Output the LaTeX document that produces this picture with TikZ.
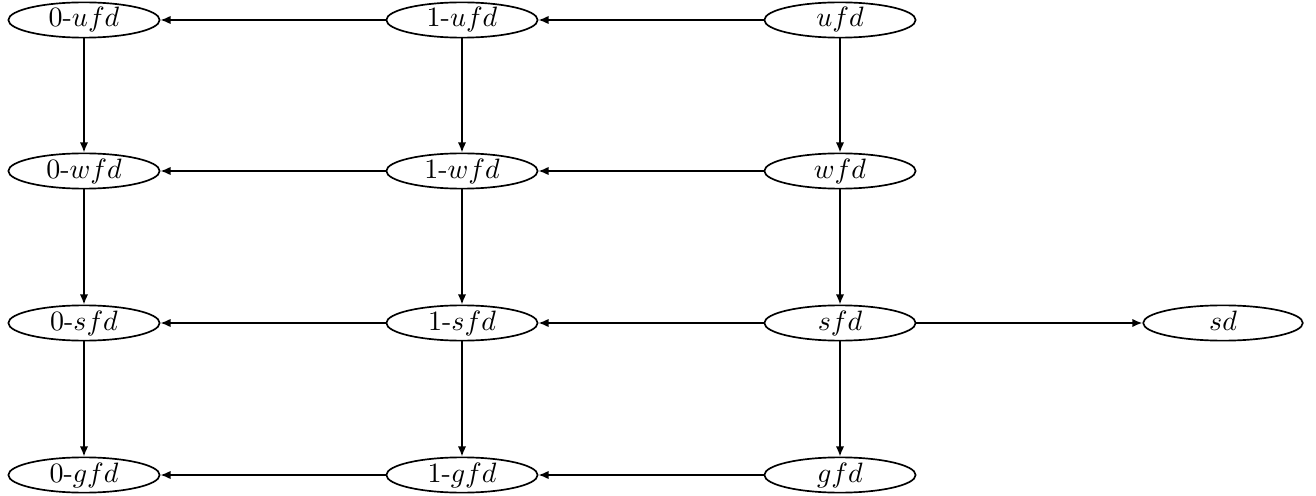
\documentclass[tikz,border=0pt]{standalone}
\usetikzlibrary{shapes.geometric,arrows.meta}
\begin{document}
\begin{tikzpicture}[x=0.3571pt,y=-0.3571pt,
  st/.style={ellipse,draw,line width=0.6pt,inner sep=0pt,minimum width=54pt,minimum height=12.6pt,text height=6.9pt,text depth=1.9pt},
  ar/.style={line width=0.6pt,-{Latex[length=3.6pt,width=3pt]}}]
\useasboundingbox (0,0) rectangle (1316,496);
\node[st] (u0) at (84,20) {$0$-$ufd$};
\node[st] (u1) at (462,20) {$1$-$ufd$};
\node[st] (u)  at (840,20) {$ufd$};
\node[st] (w0) at (84,171) {$0$-$wfd$};
\node[st] (w1) at (462,171) {$1$-$wfd$};
\node[st] (w)  at (840,171) {$wfd$};
\node[st] (s0) at (84,323) {$0$-$sfd$};
\node[st] (s1) at (462,323) {$1$-$sfd$};
\node[st] (s)  at (840,323) {$sfd$};
\node[st,minimum width=57pt] (sd) at (1223,323) {$sd$};
\node[st] (g0) at (84,475) {$0$-$gfd$};
\node[st] (g1) at (462,475) {$1$-$gfd$};
\node[st] (g)  at (840,475) {$gfd$};
\draw[ar] (u) -- (u1); \draw[ar] (u1) -- (u0);
\draw[ar] (w) -- (w1); \draw[ar] (w1) -- (w0);
\draw[ar] (s) -- (s1); \draw[ar] (s1) -- (s0);
\draw[ar] (g) -- (g1); \draw[ar] (g1) -- (g0);
\draw[ar] (s) -- (sd);
\draw[ar] (u0) -- (w0); \draw[ar] (w0) -- (s0); \draw[ar] (s0) -- (g0);
\draw[ar] (u1) -- (w1); \draw[ar] (w1) -- (s1); \draw[ar] (s1) -- (g1);
\draw[ar] (u) -- (w); \draw[ar] (w) -- (s); \draw[ar] (s) -- (g);
\end{tikzpicture}
\end{document}
